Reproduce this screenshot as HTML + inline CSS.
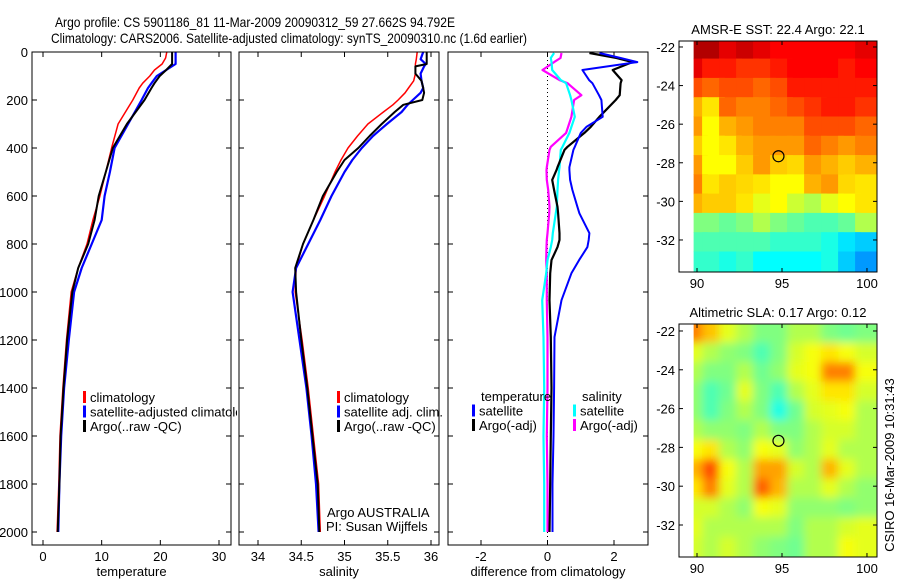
<!DOCTYPE html>
<html><head><meta charset="utf-8"><style>
html,body{margin:0;padding:0;background:#fff;}
svg{display:block;font-family:"Liberation Sans",Arial,sans-serif;}
</style></head><body>
<svg id="fig" width="900" height="580" viewBox="0 0 900 580" xmlns="http://www.w3.org/2000/svg">
<rect width="900" height="580" fill="#fff"/>
<defs><clipPath id="leg1clip"><rect x="0" y="0" width="237" height="580"/></clipPath></defs>
<text x="55" y="27" font-size="14" textLength="400" lengthAdjust="spacingAndGlyphs">Argo profile: CS 5901186_81 11-Mar-2009 20090312_59 27.662S 94.792E</text>
<text x="51" y="43" font-size="14" textLength="476" lengthAdjust="spacingAndGlyphs">Climatology: CARS2006. Satellite-adjusted climatology: synTS_20090310.nc (1.6d earlier)</text>
<g id="plots"></g>
</svg>
<script>
// ---------- profile data ----------
const tDepth = [0,25,50,75,100,130,150,200,300,400,500,600,700,800,900,1000,1200,1400,1600,1800,2000];
const tClim  = [21.1,20.9,20.3,19.0,18.2,17.0,16.4,15.3,12.8,11.7,10.7,9.7,8.5,7.5,6.0,4.8,4.0,3.4,2.9,2.7,2.4];
const tSat   = [22.6,22.6,22.6,21.0,19.4,18.5,17.9,16.8,14.5,12.2,11.4,10.5,10.0,8.3,6.6,5.3,4.4,3.6,3.1,2.8,2.6];
const tArgo  = [22.0,22.0,22.0,21.0,19.9,19.0,18.5,17.3,14.3,11.9,10.7,9.5,8.8,7.7,6.0,5.0,4.1,3.5,3.0,2.8,2.5];

const sDepth = [0,30,50,60,90,120,150,170,200,220,250,300,350,400,450,500,600,700,800,900,1000,1200,1400,1600,1800,2000];
const sClim  = [35.84,35.83,35.82,35.82,35.82,35.80,35.74,35.70,35.62,35.56,35.45,35.27,35.15,35.04,34.96,34.89,34.77,34.64,34.52,34.44,34.43,34.51,34.58,34.64,34.70,34.72];
const sSat   = [35.91,35.88,35.94,35.92,35.88,35.89,35.91,35.88,35.79,35.73,35.66,35.49,35.33,35.20,35.09,35.00,34.85,34.72,34.58,34.44,34.40,34.48,34.56,34.62,34.67,34.70];
const sArgo  = [35.95,35.95,35.95,35.82,35.82,35.89,35.91,35.92,35.90,35.68,35.58,35.43,35.29,35.16,35.00,34.91,34.75,34.64,34.52,34.43,34.44,34.50,34.57,34.63,34.69,34.71];

const dDepth = [4,25,42,75,117,130,180,200,270,312,337,395,408,480,492,533,575,645,672,755,783,813,867,922,1034,1188,1400,1600,1800,2000];
const dTsat  = [1.56,2.2,2.7,1.05,1.25,1.35,1.55,1.62,1.66,1.17,1.0,0.82,0.78,0.66,0.66,0.68,0.75,0.9,0.96,1.26,1.24,1.2,0.95,0.72,0.42,0.21,0.2,0.18,0.15,0.15];
const dTargo = [1.26,2.08,2.55,1.96,2.23,2.2,2.17,2.05,1.56,1.3,1.11,0.6,0.51,0.3,0.27,0.14,0.2,0.3,0.32,0.36,0.36,0.3,0.12,0.08,0.06,0.1,0.12,0.1,0.08,0.06];
const dSsat  = [0.2,0.1,0.12,0.14,0.4,0.56,0.68,0.72,0.82,0.72,0.66,0.45,0.4,0.36,0.35,0.32,0.3,0.28,0.25,0.16,0.14,0.1,0.0,-0.04,-0.16,-0.12,-0.1,-0.12,-0.1,-0.1];
const dSargo = [0.42,0.39,0.2,-0.15,0.36,0.6,1.02,0.8,0.72,0.62,0.56,0.1,0.06,-0.02,-0.03,-0.02,0.02,0.06,0.05,0.0,-0.02,-0.03,-0.04,-0.02,-0.02,0.0,0.0,-0.02,0.0,0.0];

const yTicks = [0,200,400,600,800,1000,1200,1400,1600,1800,2000];
const tTicks = [0,10,20,30];
const sTicks = [34,34.5,35,35.5,36];
const sTickLabels = ["34","34.5","35","35.5","36"];
const dTicks = [-2,0,2];

// ---------- map data ----------
const mapLons = [90,91,92,93,94,95,96,97,98,99,100];
const mapLats = [-22,-23,-24,-25,-26,-27,-28,-29,-30,-31,-32,-33];
const sstGrid = [
 [25.6,25.6,25.2,25.4,25.2,25.0,25.0,25.0,25.0,25.0,25.2],
 [25.2,24.8,24.8,24.6,24.6,24.8,25.0,25.0,25.0,24.8,25.0],
 [24.4,24.2,24.4,24.4,24.2,24.4,24.8,24.8,24.8,24.8,24.8],
 [23.6,23.2,24.2,24.0,24.0,24.2,24.4,24.6,24.8,24.8,24.6],
 [23.8,23.0,23.6,23.8,24.0,24.0,24.0,24.4,24.4,24.4,24.2],
 [23.4,23.0,23.2,23.6,23.8,23.8,23.8,24.2,24.0,23.8,24.0],
 [23.8,23.0,23.0,23.4,23.8,23.4,23.3,23.8,23.6,23.4,23.6],
 [24.0,23.2,23.4,23.3,23.2,23.0,23.0,23.6,23.8,23.3,23.2],
 [23.6,23.4,23.4,23.2,22.8,23.0,22.6,22.4,22.8,23.0,23.2],
 [22.0,22.0,21.8,22.0,22.4,22.0,21.8,21.6,21.6,21.8,22.4],
 [21.6,21.6,21.6,21.6,21.6,21.4,21.4,21.4,21.2,20.8,20.6],
 [21.4,21.4,21.2,21.4,21.0,21.0,21.0,21.0,21.2,20.6,20.2]
];
const sstLim = [18,26];
const slaGrid = [
 [0.15,0.11,0.06,0.03,0.00,0.00,0.03,0.03,0.00,-0.01,0.00],
 [0.06,0.03,0.01,0.00,-0.03,0.00,0.05,0.07,0.09,0.07,0.05],
 [0.03,0.00,0.00,0.03,-0.01,0.01,0.06,0.07,0.15,0.15,0.07],
 [0.01,-0.03,-0.01,0.06,0.00,-0.03,0.03,0.06,0.09,0.09,0.05],
 [0.01,-0.03,0.00,0.03,0.00,-0.06,-0.01,0.05,0.06,0.07,0.03],
 [0.03,0.01,0.01,0.00,0.03,0.00,0.00,0.03,0.05,0.05,0.03],
 [0.07,0.09,0.03,0.01,0.07,0.06,0.01,0.03,0.06,0.03,0.03],
 [0.12,0.18,0.07,0.03,0.13,0.13,0.05,0.03,0.12,0.06,0.03],
 [0.09,0.15,0.06,0.03,0.17,0.12,0.03,0.03,0.06,0.03,0.01],
 [0.05,0.05,0.03,0.01,0.07,0.06,0.01,0.01,0.01,0.00,0.01],
 [0.06,0.03,0.03,0.03,0.03,0.03,0.00,0.03,0.03,0.05,0.06],
 [0.05,0.03,0.05,0.03,0.01,0.00,-0.01,0.03,0.03,0.07,0.06]
];
const slaLim = [-0.3,0.3];
const argoLon = 94.792, argoLat = -27.662;

// ---------- helpers ----------
const NS = "http://www.w3.org/2000/svg";
const root = document.getElementById('plots');
function mk(tag, attrs, parent){ const e=document.createElementNS(NS,tag); for(const k in attrs) e.setAttribute(k,attrs[k]); (parent||root).appendChild(e); return e; }
function lin(d0,d1,r0,r1){ return v => r0 + (v-d0)*(r1-r0)/(d1-d0); }
function jet(v){
  v=Math.max(0,Math.min(1,v));
  const r=Math.max(0,Math.min(1,1.5-Math.abs(4*v-3)));
  const g=Math.max(0,Math.min(1,1.5-Math.abs(4*v-2)));
  const b=Math.max(0,Math.min(1,1.5-Math.abs(4*v-1)));
  return `rgb(${Math.round(r*255)},${Math.round(g*255)},${Math.round(b*255)})`;
}

const yScale = lin(0,2000,52,532);

function frame(x0,x1,y0,y1,name){
  const r = mk('rect',{x:x0,y:y0,width:x1-x0,height:y1-y0,fill:'none',stroke:'#000','stroke-width':1});
  
  
}
function profilePanel(opts){
  const {x0,x1,xs,ticks,tickLabels,xlabel,name,yLabels} = opts;
  const g = mk('g',{});
  
  
  yTicks.forEach(d=>{
    const y=yScale(d);
    mk('line',{x1:x0,y1:y,x2:x0+5,y2:y,stroke:'#000'},g);
    mk('line',{x1:x1,y1:y,x2:x1-5,y2:y,stroke:'#000'},g);
    if(yLabels){
      const t=mk('text',{x:x0-4,y:y+5,'font-size':13,'text-anchor':'end'},g);
      t.textContent=d;
      
      
    }
  });
  ticks.forEach((v,i)=>{
    const x=xs(v);
    mk('line',{x1:x,y1:545,x2:x,y2:540,stroke:'#000'},g);
    mk('line',{x1:x,y1:52,x2:x,y2:57,stroke:'#000'},g);
    const t=mk('text',{x:x,y:561,'font-size':13,'text-anchor':'middle'},g);
    t.textContent=tickLabels[i];
    
    
  });
  const xl=mk('text',{x:(x0+x1)/2,y:576,'font-size':13,'text-anchor':'middle'},g);
  xl.textContent=xlabel;
  
  
  frame(x0,x1,52,545,name+'-frame');
  return g;
}
function series(g,xs,vals,depths,color,w,name){
  const pts=vals.map((v,i)=>xs(v).toFixed(1)+','+yScale(depths[i]).toFixed(1)).join(' ');
  const p=mk('polyline',{points:pts,fill:'none',stroke:color,'stroke-width':w,'stroke-linejoin':'round'},g);
  
  
}
function legend(g,x,y,items){
  items.forEach((it,i)=>{
    const yy=y+i*14.5;
    if(it.color){
      const m=mk('rect',{x:x,y:yy-11,width:3,height:12,fill:it.color},g);
      
      
    }
    const t=mk('text',{x:x+(it.color?7:0),y:yy,'font-size':13},g);
    t.textContent=it.label;
    
    
  });
}

// Panel 1: temperature
const xT = lin(0,30,43,219);
const g1 = profilePanel({x0:32,x1:231,xs:xT,ticks:tTicks,tickLabels:tTicks.map(String),xlabel:'temperature',name:'temperature-panel',yLabels:true});
series(g1,xT,tClim,tDepth,'#ff0000',1.5,'temp-climatology-line');
series(g1,xT,tSat,tDepth,'#0000ff',2.2,'temp-satellite-line');
series(g1,xT,tArgo,tDepth,'#000000',2,'temp-argo-line');
const leg1=mk('g',{'clip-path':'url(#leg1clip)'},g1);
legend(leg1,83,402,[{color:'#f00',label:'climatology'},{color:'#00f',label:'satellite-adjusted climatology'},{color:'#000',label:'Argo(..raw -QC)'}]);

// Panel 2: salinity
const xS = lin(34,36,258,431);
const g2 = profilePanel({x0:239,x1:439,xs:xS,ticks:sTicks,tickLabels:sTickLabels,xlabel:'salinity',name:'salinity-panel',yLabels:false});
series(g2,xS,sClim,sDepth,'#ff0000',1.5,'sal-climatology-line');
series(g2,xS,sSat,sDepth,'#0000ff',2.2,'sal-satellite-line');
series(g2,xS,sArgo,sDepth,'#000000',2,'sal-argo-line');
legend(g2,337,402,[{color:'#f00',label:'climatology'},{color:'#00f',label:'satellite adj. clim.'},{color:'#000',label:'Argo(..raw -QC)'}]);
const a1=mk('text',{x:327,y:517,'font-size':13},g2); a1.textContent='Argo AUSTRALIA';


const a2=mk('text',{x:326,y:531,'font-size':13},g2); a2.textContent='PI: Susan Wijffels';



// Panel 3: difference
const xD = lin(-2,2,481,614);
const g3 = profilePanel({x0:448,x1:648,xs:xD,ticks:dTicks,tickLabels:dTicks.map(String),xlabel:'difference from climatology',name:'difference-panel',yLabels:false});
const zl=mk('line',{x1:xD(0),y1:52,x2:xD(0),y2:545,stroke:'#000','stroke-dasharray':'1,3'},g3);


series(g3,xD,dSargo,dDepth,'#ff00ff',2.2,'diff-sal-argo-line');
series(g3,xD,dSsat,dDepth,'#00ffff',2.2,'diff-sal-satellite-line');
series(g3,xD,dTargo,dDepth,'#000000',2.2,'diff-temp-argo-line');
series(g3,xD,dTsat,dDepth,'#0000ff',2,'diff-temp-satellite-line');
legend(g3,481,401,[{label:'temperature'}]);
legend(g3,472,415.5,[{color:'#00f',label:'satellite'},{color:'#000',label:'Argo(-adj)'}]);
legend(g3,582,401,[{label:'salinity'}]);
legend(g3,573,415.5,[{color:'#0ff',label:'satellite'},{color:'#f0f',label:'Argo(-adj)'}]);

// ---------- maps ----------
function mapPanel(opts){
  const {y0,y1,latTop,latBot,grid,lim,title,name,blur} = opts;
  const x0=679,x1=877;
  const xs=lin(88.94,100.59,x0,x1);
  const ys=lin(latTop,latBot,y0,y1);
  const g=mk('g',{});
  
  
  const clipId=name+'-clip';
  const cp=mk('clipPath',{id:clipId},g);
  mk('rect',{x:xs(89.8),y:y0,width:x1-xs(89.8),height:y1-y0},cp);
  if(blur){
    const f=mk('filter',{id:name+'-blur',x:'-10%',y:'-10%',width:'120%',height:'120%'},g);
    mk('feGaussianBlur',{stdDeviation:4.5,edgeMode:'duplicate'},f);
  }
  const cg=mk('g',{'clip-path':`url(#${clipId})`},g);
  const inner=mk('g',blur?{filter:`url(#${name}-blur)`}:{},cg);
  grid.forEach((row,r)=>row.forEach((v,c)=>{
    const lon=mapLons[c], lat=mapLats[r];
    const cx0=xs(lon-0.7), cx1=xs(lon+0.6+ (c===row.length-1?0.6:0));
    const cy0=ys(lat+0.4 + (r===0?0.6:0)), cy1=ys(lat-0.6 - (r===grid.length-1?0.8:0));
    const cell=mk('rect',{x:cx0.toFixed(1),y:cy0.toFixed(1),width:(cx1-cx0+0.6).toFixed(1),height:(cy1-cy0+0.6).toFixed(1),fill:jet((v-lim[0])/(lim[1]-lim[0]))},inner);
    
    
  }));
  const mark=mk('circle',{cx:xs(argoLon),cy:ys(argoLat),r:5.5,fill:'none',stroke:'#000','stroke-width':1.2},g);
  
  
  [-22,-24,-26,-28,-30,-32].forEach(lat=>{
    const y=ys(lat);
    mk('line',{x1:x0,y1:y,x2:x0+4,y2:y,stroke:'#000'},g);
    mk('line',{x1:x1,y1:y,x2:x1-4,y2:y,stroke:'#000'},g);
    const t=mk('text',{x:x0-4,y:y+5,'font-size':13,'text-anchor':'end'},g);
    t.textContent=String(lat);
    
    
  });
  [90,95,100].forEach(lon=>{
    const x=xs(lon);
    mk('line',{x1:x,y1:y1,x2:x,y2:y1-4,stroke:'#000'},g);
    mk('line',{x1:x,y1:y0,x2:x,y2:y0+4,stroke:'#000'},g);
    const t=mk('text',{x:x,y:y1+16,'font-size':13,'text-anchor':'middle'},g);
    t.textContent=lon;
    
    
  });
  const tt=mk('text',{x:(x0+x1)/2,y:y0-7,'font-size':13,'text-anchor':'middle'},g);
  tt.textContent=title;
  
  
  frame(x0,x1,y0,y1,name+'-frame');
}
mapPanel({y0:41,y1:272,latTop:-21.69,latBot:-33.66,grid:sstGrid,lim:sstLim,title:'AMSR-E SST: 22.4 Argo: 22.1',name:'sst-map',blur:false});
mapPanel({y0:324,y1:557,latTop:-21.64,latBot:-33.65,grid:slaGrid,lim:slaLim,title:'Altimetric SLA: 0.17 Argo: 0.12',name:'sla-map',blur:true});

const stamp=mk('text',{x:0,y:0,'font-size':13,'text-anchor':'middle',transform:'translate(894,465) rotate(-90)'});
stamp.textContent='CSIRO 16-Mar-2009 10:31:43';


</script>
</body></html>
